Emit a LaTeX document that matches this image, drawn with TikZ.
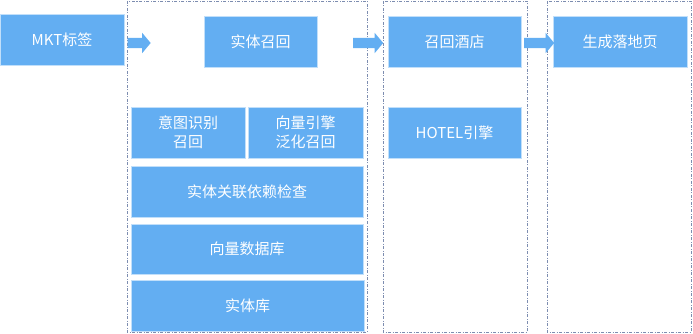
\documentclass[tikz,border=0pt]{standalone}
\usepackage{fontspec}
\setmainfont{Noto Sans CJK SC}
\usetikzlibrary{shapes.arrows}
\definecolor{boxblue}{HTML}{63AEF2}
\definecolor{dashc}{HTML}{7D8DB0}
\begin{document}
\begin{tikzpicture}[x=1pt,y=-1pt,
  blk/.style={fill=boxblue,draw=boxblue!40!white,line width=0.6pt,text=white,font=\fontsize{15}{19}\selectfont,align=center,inner sep=0pt},
  grp/.style={draw=dashc,line width=0.8pt,dash pattern=on 3pt off 1.5pt on 1pt off 1.5pt},
  barrow/.style={single arrow,fill=boxblue,draw=none,inner xsep=0pt,inner ysep=5pt,single arrow head extend=5pt,single arrow tip angle=100}]
\useasboundingbox (0,0) rectangle (693,334);
% groups
\draw[grp] (127,1) rectangle (367,332);
\draw[grp] (383,1) rectangle (527,332);
\draw[grp] (547,1) rectangle (691,332);
% boxes
\path[blk] (0,14) rectangle (124,65) node[midway] (mkt) {MKT标签};
\path[blk] (204,16) rectangle (317,67) node[midway] (shiti) {实体召回};
\path[blk] (388,16) rectangle (521,67) node[midway] (hotel) {召回酒店};
\path[blk] (553,16) rectangle (687,67) node[midway] (page) {生成落地页};
\path[blk] (388,107) rectangle (521,158) node[midway] (engine) {HOTEL引擎};
\path[blk] (131,107) rectangle (245,158) node[midway] (yitu) {意图识别\\召回};
\path[blk] (248,107) rectangle (363,158) node[midway] (xiangliang) {向量引擎\\泛化召回};
\path[blk] (131,166) rectangle (363,217) node[midway] (check) {实体关联依赖检查};
\path[blk] (131,224) rectangle (363,274) node[midway] (vdb) {向量数据库};
\path[blk] (131,280) rectangle (364,331) node[midway] (edb) {实体库};
% arrows
\node[barrow,minimum height=23pt] (a1) at (137,43) {};
\node[barrow,minimum height=30pt] (a2) at (366,43) {};
\node[barrow,minimum height=30pt] (a3) at (537,43) {};
\end{tikzpicture}
\end{document}
